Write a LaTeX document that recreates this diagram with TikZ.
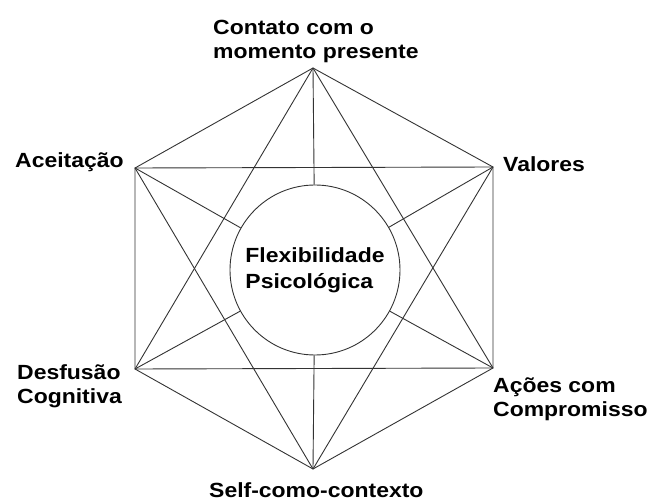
\documentclass[tikz,border=0pt]{standalone}
\usepackage{fontspec}
\setmainfont{Liberation Sans}[FakeStretch=1.12]
\usetikzlibrary{calc}
\definecolor{edge-gray}{gray}{0.2}
\tikzstyle{hexedge}=[draw=edge-gray,line width=0.9pt,line join=round]
\tikzstyle{hexlabel}=[inner sep=0pt,anchor=base west,align=left,font=\fontsize{20.5}{24}\selectfont\bfseries]
\newcommand{\spoke}[1]{
	\draw[hexedge] (#1) -- (hub);
}

\begin{document}
\begin{tikzpicture}[x=1pt,y=-1pt]
	\useasboundingbox (0,0) rectangle (649,500);
	% corners of the hexagon
	\coordinate (top) at (313,68);
	\coordinate (uright) at (493,167);
	\coordinate (lright) at (493,368);
	\coordinate (bottom) at (313,469);
	\coordinate (lleft) at (135,369);
	\coordinate (uleft) at (135,168);
	\node[circle,hexedge,minimum size=170pt,inner sep=0pt,align=left,
		font=\fontsize{20.5}{26}\selectfont\bfseries] (hub) at (315,270) {Flexibilidade\\Psicológica};
	\draw[hexedge] (top) -- (uright) -- (lright) -- (bottom) -- (lleft) -- (uleft) -- cycle;
	\draw[hexedge] (top) -- (lright) -- (lleft) -- cycle;
	\draw[hexedge] (bottom) -- (uleft) -- (uright) -- cycle;
	\foreach \c in {top,uright,lright,bottom,lleft,uleft} {
		\spoke{\c}
	}
	% labels (base = last line)
	\node[hexlabel] (contato) at (213,59) {Contato com o\\momento presente};
	\node[hexlabel] (aceitacao) at (15,168) {Aceitação};
	\node[hexlabel] (valores) at (503,172) {Valores};
	\node[hexlabel] (desfusao) at (17,403) {Desfusão\\Cognitiva};
	\node[hexlabel] (acoes) at (493,416) {Ações com\\Compromisso};
	\node[hexlabel] (self) at (209,497) {Self-como-contexto};
\end{tikzpicture}
\end{document}
